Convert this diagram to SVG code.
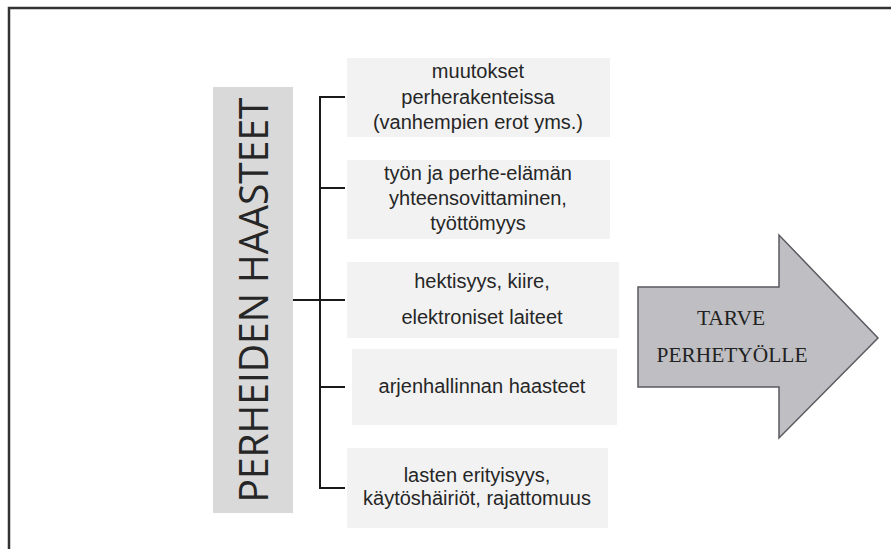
<svg xmlns="http://www.w3.org/2000/svg" width="891" height="549" viewBox="0 0 891 549">
<style>
.box{fill:#f2f2f2}
.t{font-family:"Liberation Sans",Arial,sans-serif;font-size:20px;fill:#262626;text-anchor:middle}
.c{stroke:#1a1a1a;stroke-width:2;fill:none}
</style>
<rect width="891" height="549" fill="#ffffff"/>
<path d="M9,560 V8 H900" fill="none" stroke="#333" stroke-width="2.5"/>
<g id="label">
<rect x="213" y="87" width="80" height="426" fill="#d9d9d9"/>
<text transform="translate(268,300) rotate(-90)" font-family="'Open Sans','Liberation Sans',sans-serif" font-size="40" fill="#262626" text-anchor="middle" textLength="405" lengthAdjust="spacingAndGlyphs">PERHEIDEN HAASTEET</text>
</g>
<g id="connectors">
<path class="c" d="M293,300 H320"/>
<path class="c" d="M345,97 H320 V488 H345"/>
<path class="c" d="M320,188 H345"/>
<path class="c" d="M320,300 H345" stroke="#777"/>
<path class="c" d="M320,387 H345" stroke="#555"/>
</g>
<g id="b1">
<rect class="box" x="347" y="58" width="263" height="79"/>
<text class="t" x="478" y="78">muutokset</text>
<text class="t" x="478" y="104">perherakenteissa</text>
<text class="t" x="478" y="129">(vanhempien erot yms.)</text>
</g>
<g id="b2">
<rect class="box" x="347" y="160" width="263" height="79"/>
<text class="t" x="478" y="180">työn ja perhe-elämän</text>
<text class="t" x="478" y="205">yhteensovittaminen,</text>
<text class="t" x="478" y="230">työttömyys</text>
</g>
<g id="b3">
<rect class="box" x="347" y="262" width="272" height="76"/>
<text class="t" x="482" y="288">hektisyys, kiire,</text>
<text class="t" x="482" y="324">elektroniset laiteet</text>
</g>
<g id="b4">
<rect class="box" x="352" y="349" width="265" height="76"/>
<text class="t" x="482" y="393">arjenhallinnan haasteet</text>
</g>
<g id="b5">
<rect class="box" x="347" y="448" width="261" height="80"/>
<text class="t" x="477" y="482">lasten erityisyys,</text>
<text class="t" x="477" y="505">käytöshäiriöt, rajattomuus</text>
</g>
<g id="arrow">
<polygon points="638,287 779,287 779,235 878,338 779,438 779,387 638,387" fill="#bfbfc3" stroke="#5a5a60" stroke-width="1.5"/>
<text x="731" y="325" font-family="'Liberation Serif',serif" font-size="21.5" fill="#222" text-anchor="middle">TARVE</text>
<text x="732" y="362" font-family="'Liberation Serif',serif" font-size="21.5" fill="#222" text-anchor="middle" textLength="151" lengthAdjust="spacingAndGlyphs">PERHETYÖLLE</text>
</g>
</svg>
